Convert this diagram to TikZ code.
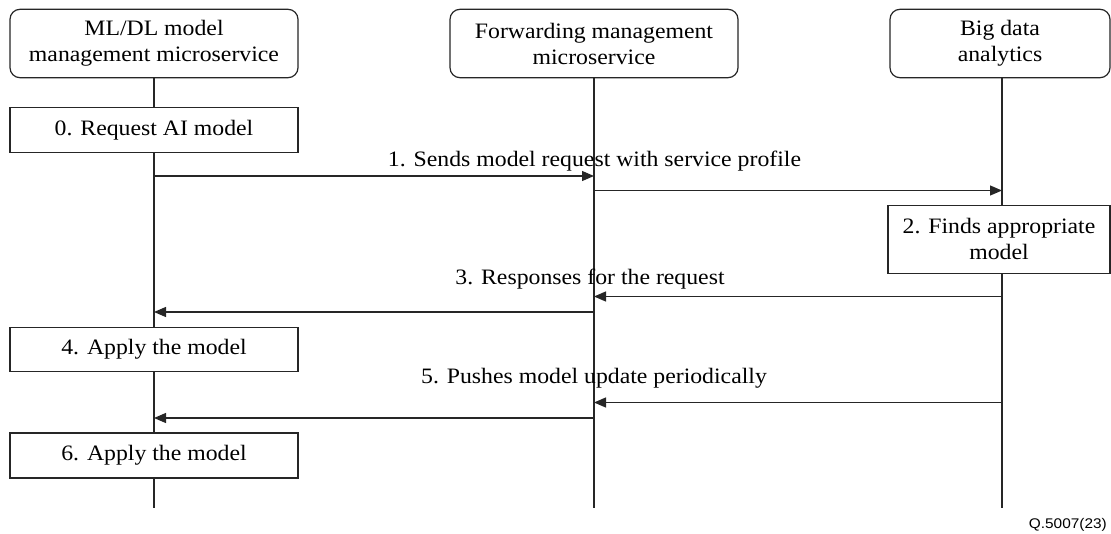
\documentclass[tikz,border=0pt]{standalone}
\usepackage{fontspec}
\setmainfont[FakeStretch=1.08]{Liberation Serif}
\newfontfamily\qfont[FakeStretch=1.1]{Liberation Sans}
\usetikzlibrary{arrows.meta}
\begin{document}
\begin{tikzpicture}[x=1pt,y=-1pt,
  every node/.style={font=\fontsize{22}{26}\selectfont, inner sep=0pt},
  hdr/.style={draw=black!85, line width=1.2pt, rounded corners=10pt, fill=white, minimum height=68.4pt, align=center},
  act/.style={draw=black!85, line width=1.2pt, fill=white, align=center},
  life/.style={draw=black!85, line width=1.2pt},
  msg/.style={draw=black!85, line width=1.2pt, -{Triangle[length=12pt,width=10pt]}},
  lbl/.style={anchor=base}]
\useasboundingbox (0,0) rectangle (1111,533);
% headers
\node[hdr, minimum width=288pt] (h1) at (154,43.5) {ML/DL model\\management microservice};
\node[hdr, minimum width=288pt] (h2) at (594,43.5) {Forwarding management\\microservice};
\node[hdr, minimum width=220pt] (h3) at (1000,43.5) {Big data\\analytics};
% lifeline ends
\coordinate (e1) at (154,508);
\coordinate (e2) at (594,508);
\coordinate (e3) at (1002,508);
\coordinate (t3) at (1002,77.7);
\draw[life] (h1.south) -- (e1);
\draw[life] (h2.south) -- (e2);
\draw[life] (t3) -- (e3);
% action boxes
\node[act, minimum width=288pt, minimum height=45.5pt] (a0) at (154,130) {0. Request AI model};
\node[act, minimum width=222pt, minimum height=68pt] (a2) at (999,239.3) {2. Finds appropriate\\model};
\node[act, minimum width=288pt, minimum height=44pt] (a4) at (154,349.5) {4. Apply the model};
\node[act, minimum width=288pt, minimum height=45pt] (a6) at (154,455.5) {6. Apply the model};
% messages
\draw[msg] (e1 |- 0,176) -- (e2 |- 0,176);
\node[lbl] (m1) at (594.5,166) {1. Sends model request with service profile};
\draw[msg] (e2 |- 0,190.5) -- (e3 |- 0,190.5);
\draw[msg] (e3 |- 0,296.5) -- (e2 |- 0,296.5);
\node[lbl] (m3) at (590,284) {3. Responses for the request};
\draw[msg] (e2 |- 0,312) -- (e1 |- 0,312);
\draw[msg] (e3 |- 0,402.5) -- (e2 |- 0,402.5);
\node[lbl] (m5) at (594,383.5) {5. Pushes model update periodically};
\draw[msg] (e2 |- 0,418) -- (e1 |- 0,418);
% figure id
\node[anchor=base east, font=\qfont\fontsize{14}{16}\selectfont] (q) at (1107,528.5) {Q.5007(23)};
\end{tikzpicture}
\end{document}
